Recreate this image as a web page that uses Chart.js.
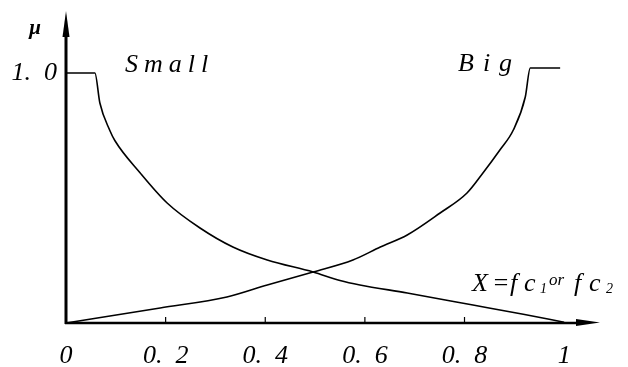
<!DOCTYPE html>
<html>
<head>
<meta charset="utf-8">
<script src="https://cdn.jsdelivr.net/npm/chart.js@4.4.1/dist/chart.umd.min.js"></script>
<style>
  html, body { margin: 0; padding: 0; background: #fff; }
  #wrap { width: 628px; height: 367px; }
</style>
</head>
<body>
<div id="wrap"><canvas id="fuzzyChart"></canvas></div>
<script>
// membership curves, x = fc1 or fc2
const smallX = [0, 0.058, 0.068, 0.088, 0.098, 0.149, 0.203, 0.269, 0.335, 0.404, 0.496, 0.55, 0.59, 0.685, 0.817, 0.918, 1.0];
const smallY = [1, 1, 0.88, 0.77, 0.73, 0.60, 0.48, 0.38, 0.304, 0.252, 0.204, 0.17, 0.152, 0.12, 0.072, 0.035, 0.003];
const bigX = [0, 0.189, 0.323, 0.404, 0.496, 0.576, 0.631, 0.685, 0.751, 0.805, 0.837, 0.871, 0.898, 0.922, 0.932, 0.992];
const bigY = [0, 0.06, 0.104, 0.152, 0.204, 0.252, 0.304, 0.352, 0.44, 0.52, 0.60, 0.692, 0.772, 0.904, 1.02, 1.02];

const tickVals = [0, 0.2, 0.4, 0.6, 0.8, 1];
const tickLabels = ['0', '0.  2', '0.  4', '0.  6', '0.  8', '1'];

const FONT = '"Liberation Serif", serif';

function toPoints(xs, ys) {
    return xs.map((x, i) => ({ x: x, y: ys[i] }));
}

// axes with arrows, small inner ticks and the text labels
const axesPlugin = {
    id: 'axesPlugin',
    afterDraw(chart) {
        const ctx = chart.ctx;
        const xs = chart.scales.x;
        const ys = chart.scales.y;
        const x0 = xs.getPixelForValue(0);
        const y0 = ys.getPixelForValue(0);
        const area = chart.chartArea;

        ctx.save();
        ctx.strokeStyle = '#000';
        ctx.fillStyle = '#000';

        // y axis
        ctx.lineWidth = 3;
        ctx.beginPath();
        ctx.moveTo(x0, y0 + 1);
        ctx.lineTo(x0, area.top + 18);
        ctx.stroke();
        ctx.beginPath();
        ctx.moveTo(x0, area.top - 2);
        ctx.lineTo(x0 - 3.5, area.top + 24);
        ctx.lineTo(x0 + 3.5, area.top + 24);
        ctx.closePath();
        ctx.fill();

        // x axis
        ctx.lineWidth = 2.5;
        ctx.beginPath();
        ctx.moveTo(x0 - 1, y0);
        ctx.lineTo(area.right - 18, y0);
        ctx.stroke();
        ctx.beginPath();
        ctx.moveTo(area.right, y0 - 0.5);
        ctx.lineTo(area.right - 24, y0 - 4);
        ctx.lineTo(area.right - 24, y0 + 3);
        ctx.closePath();
        ctx.fill();

        // inner tick marks
        ctx.lineWidth = 1.2;
        tickVals.slice(1, -1).forEach(v => {
            const px = xs.getPixelForValue(v);
            ctx.beginPath();
            ctx.moveTo(px, y0);
            ctx.lineTo(px, y0 - 6);
            ctx.stroke();
        });

        ctx.textBaseline = 'middle';

        // 1.0 level mark on the y axis
        ctx.font = 'italic 26px ' + FONT;
        ctx.textAlign = 'right';
        ctx.fillText('1.  0', x0 - 9, ys.getPixelForValue(1));

        ctx.textAlign = 'center';
        ctx.font = 'italic bold 21px ' + FONT;
        ctx.fillText('\u03bc', 35, 29);

        // curve names, set wide like the axis text
        ctx.textAlign = 'left';
        ctx.font = 'italic 26px ' + FONT;
        ctx.letterSpacing = '6px';
        ctx.fillText('Small', 125, 65);
        ctx.letterSpacing = '9px';
        ctx.fillText('Big', 458, 64);
        ctx.letterSpacing = '0px';

        // X = fc1 or fc2
        ctx.textBaseline = 'alphabetic';
        const base = 291;
        const parts = [
            ['X', 472, 26, 0], ['=', 492, 26, 0], ['f', 510, 26, 0], ['c', 524, 26, 0],
            ['1', 540, 14, 2], ['or', 549, 17, -6],
            ['f', 574, 26, 0], ['c', 589, 26, 0], ['2', 606, 14, 2]
        ];
        parts.forEach(([txt, px, size, dy]) => {
            ctx.font = 'italic ' + size + 'px ' + FONT;
            ctx.fillText(txt, px, base + dy);
        });

        ctx.restore();
    }
};

const ctx = document.getElementById('fuzzyChart').getContext('2d');
new Chart(ctx, {
    type: 'line',
    data: {
        datasets: [{
            label: 'Small',
            data: toPoints(smallX, smallY),
            borderColor: '#000',
            borderWidth: 1.6,
            pointRadius: 0,
            cubicInterpolationMode: 'monotone'
        }, {
            label: 'Big',
            data: toPoints(bigX, bigY),
            borderColor: '#000',
            borderWidth: 1.6,
            pointRadius: 0,
            cubicInterpolationMode: 'monotone'
        }]
    },
    options: {
        responsive: true,
        maintainAspectRatio: false,
        animation: false,
        layout: { padding: { left: 66, right: 28, top: 13, bottom: 0 } },
        plugins: { legend: { display: false }, tooltip: { enabled: false } },
        scales: {
            x: {
                type: 'linear',
                min: 0,
                max: 1.072,
                afterBuildTicks: axis => { axis.ticks = tickVals.map(v => ({ value: v })); },
                afterFit: axis => { axis.height = 44; },
                grid: { display: false, drawTicks: false },
                border: { display: false },
                ticks: {
                    padding: 18,
                    color: '#000',
                    maxRotation: 0,
                    autoSkip: false,
                    font: { family: FONT, size: 26, style: 'italic' },
                    callback: (v) => tickLabels[tickVals.indexOf(v)]
                }
            },
            y: {
                type: 'linear',
                min: 0,
                max: 1.24,
                display: false
            }
        }
    },
    plugins: [axesPlugin]
});
</script>
</body>
</html>
